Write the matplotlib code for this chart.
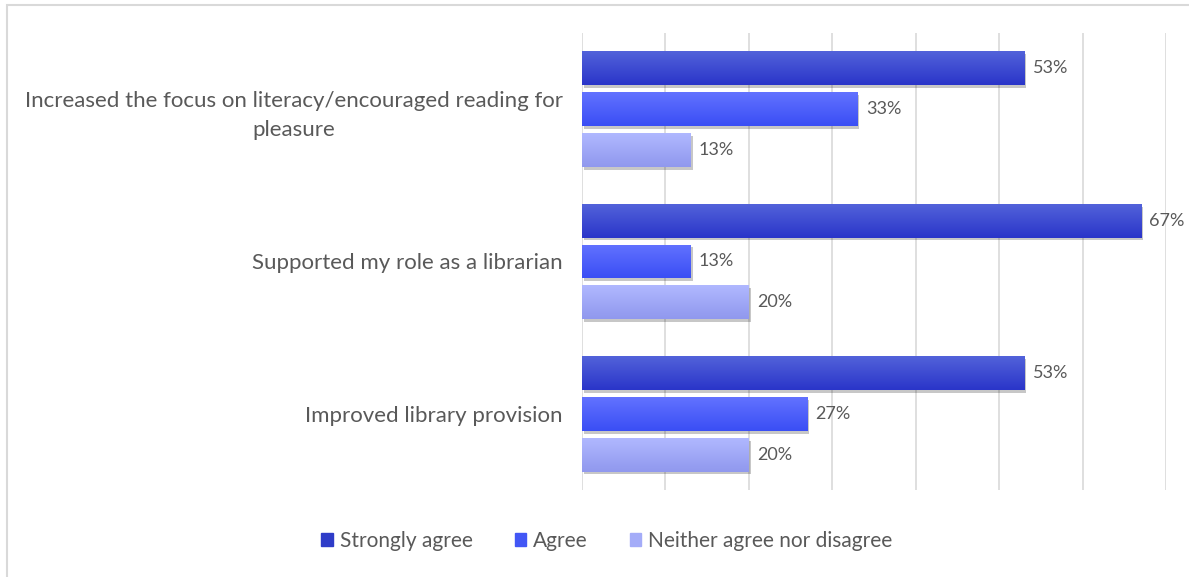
import matplotlib

matplotlib.use("Agg")
import matplotlib.pyplot as plt
import matplotlib.patheffects as pe
import numpy as np
from matplotlib.colors import LinearSegmentedColormap
from matplotlib.patches import Rectangle

categories = [
    "Increased the focus on literacy/encouraged reading for\npleasure",
    "Supported my role as a librarian",
    "Improved library provision",
]
series_names = ["Strongly agree", "Agree", "Neither agree nor disagree"]
strongly_agree = [53, 67, 53]
agree = [33, 13, 27]
neither = [13, 20, 20]
values = [strongly_agree, agree, neither]

# (top colour, bottom colour) of each bar gradient
grad_colors = [("#5262da", "#2a35c9"), ("#6272ff", "#3a4ef5"), ("#b0b8ff", "#9098ee")]
legend_colors = ["#2f3cc8", "#4257f5", "#a4acf8"]
text_color = "#595959"

plt.rcParams["font.family"] = ["Lato", "DejaVu Sans"]

fig = plt.figure(figsize=(11.89, 5.77), dpi=100)
ax = fig.add_axes([0.4895, 0.1508, 0.4912, 0.792])

# light frame round the whole chart
fig.patches.append(Rectangle((7 / 1189, -0.01), 1.02, (577 - 5) / 577 + 0.01,
                             transform=fig.transFigure, fill=False,
                             edgecolor="#d9d9d9", linewidth=1.5))

bar_h = 0.222
step = 0.268
y_pos = np.arange(len(categories))
shadow = [pe.SimplePatchShadow(offset=(1.5, -2), shadow_rgbFace="#000000", alpha=0.22), pe.Normal()]

for i, (vals, (c_top, c_bot)) in enumerate(zip(values, grad_colors)):
    offs = (i - 1) * step
    bars = ax.barh(y_pos + offs, vals, height=bar_h, color=c_bot, label=series_names[i],
                   zorder=3, path_effects=shadow)
    cmap = LinearSegmentedColormap.from_list(f"g{i}", [c_top, c_bot])
    for b, v in zip(bars, vals):
        x0, y0 = b.get_x(), b.get_y()
        w, h = b.get_width(), b.get_height()
        im = ax.imshow(np.linspace(0, 1, 64).reshape(-1, 1), cmap=cmap, aspect="auto",
                       extent=(x0, x0 + w, y0 + h, y0), zorder=4, interpolation="bilinear")
        im.set_clip_path(b)
        ax.text(v + 1.0, b.get_y() + h / 2, f"{v}%", va="center", ha="left",
                fontsize=13, color=text_color, zorder=5)

ax.set_xlim(0, 70)
ax.set_ylim(2.5, -0.5)
ax.set_xticks(np.arange(0, 71, 10))
ax.xaxis.grid(True, color="#d9d9d9", linewidth=1.2, zorder=0)
ax.tick_params(axis="x", length=0, labelbottom=False)
ax.tick_params(axis="y", length=0, pad=14)
ax.set_yticks(y_pos)
ax.set_yticklabels(categories, fontsize=16, color=text_color, multialignment="center",
                   linespacing=1.55)
for s in ax.spines.values():
    s.set_visible(False)

handles = [Rectangle((0, 0), 1, 1, color=c) for c in legend_colors]
fig.legend(handles, series_names, loc="center", bbox_to_anchor=(607 / 1189, 1 - 541 / 577),
           ncol=3, frameon=False, fontsize=15, labelcolor=text_color,
           handlelength=0.55, handleheight=0.55, handletextpad=0.35, columnspacing=2.0)

fig.savefig("out.png", dpi=100)
